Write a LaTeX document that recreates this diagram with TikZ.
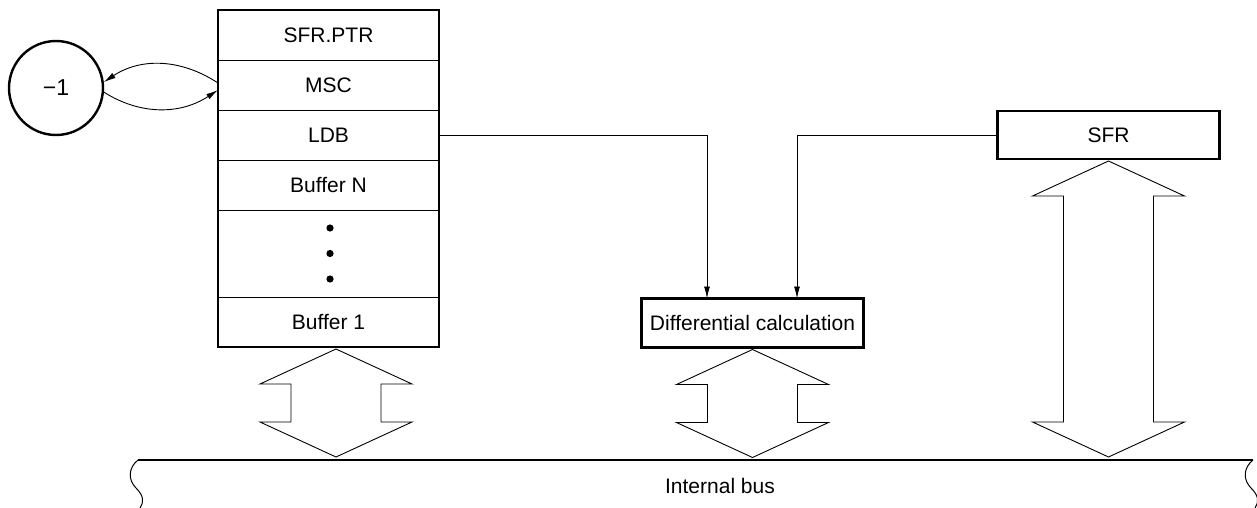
\documentclass[tikz,border=0pt]{standalone}
\usepackage{fontspec}
\setmainfont{Liberation Sans}
\usetikzlibrary{arrows.meta}
\begin{document}
\begin{tikzpicture}[x=1pt,y=-1pt,
  every node/.style={font=\fontsize{21}{25}\selectfont},
  cell/.style={draw,line width=0.9pt,minimum width=221pt,minimum height=50pt,inner sep=0pt,outer sep=0pt},
  thickbox/.style={draw,line width=2.4pt,inner sep=0pt,outer sep=0pt},
  conn/.style={line width=0.9pt,-{Latex[length=12pt,width=6pt]}},
  dblarr/.style={draw,line width=0.9pt,line join=miter},
  busline/.style={line width=1.4pt},
  wave/.style={line width=1pt}]
\useasboundingbox (0,0) rectangle (1257,508);
% register stack
\node[cell] (ptr) at (328.5,35) {SFR.PTR};
\node[cell] (msc) at (328.5,85) {MSC};
\node[cell] (ldb) at (328.5,135) {LDB};
\node[cell] (bufn) at (328.5,185) {Buffer N};
\node[cell,minimum height=87pt] (dots) at (328.5,253.5) {};
\node[cell] (buf1) at (328.5,322) {Buffer 1};
\draw[line width=2.4pt] (ptr.north west) rectangle (buf1.south east);
\fill (330,228) circle (3.6pt) (330,253.5) circle (3.6pt) (330,279) circle (3.6pt);
% -1 circle
\node[circle,draw,line width=2.4pt,minimum size=94pt,inner sep=0pt,font=\fontsize{23}{27}\selectfont] (m1) at (56,88) {−1};
\draw[conn] ([yshift=2pt]msc.west) .. controls (180,58) and (140,58) .. (m1.7);
\draw[conn] (m1.-5) .. controls (140,115) and (180,115) .. ([yshift=-5pt]msc.west);
% differential calculation
\node[thickbox,minimum width=222pt,minimum height=49pt] (diff) at (752.5,323) {Differential calculation};
\node[thickbox,minimum width=222pt,minimum height=48pt] (sfr) at (1108.5,135) {SFR};
\draw[conn] (ldb.east) -| ([xshift=-45.5pt]diff.north);
\draw[conn] (sfr.west) -| ([xshift=44.5pt]diff.north);
% double arrows
\draw[dblarr] ([xshift=7.5pt,yshift=-2pt]buf1.south) coordinate (a1)
  -- ++(76,35) -- ++(-31,0) -- ++(0,38) -- ++(31,0) -- ++(-76,35)
  -- ++(-76,-35) -- ++(31,0) -- ++(0,-38) -- ++(-31,0) -- cycle;
\draw[dblarr] ([yshift=-2pt]diff.south) coordinate (a2)
  -- ++(76,35) -- ++(-31,0) -- ++(0,38) -- ++(31,0) -- ++(-76,35)
  -- ++(-76,-35) -- ++(31,0) -- ++(0,-38) -- ++(-31,0) -- cycle;
\draw[dblarr] ([yshift=-2pt]sfr.south) coordinate (a3)
  -- ++(76,35) -- ++(-31,0) -- ++(0,226) -- ++(31,0) -- ++(-76,35)
  -- ++(-76,-35) -- ++(31,0) -- ++(0,-226) -- ++(-31,0) -- cycle;
% internal bus
\coordinate (busL) at (138,460);
\coordinate (busR) at (1253,460);
\draw[busline] (busL) -- (busR);
\draw[wave] (busL) .. controls (128,468) and (128,480) .. (136,488) .. controls (144,496) and (144,502) .. (140,508);
\draw[wave] (busR) .. controls (1243,468) and (1243,480) .. (1251,488) .. controls (1259,496) and (1259,502) .. (1255,508);
\node (bus) at (720,486) {Internal bus};
\end{tikzpicture}
\end{document}
